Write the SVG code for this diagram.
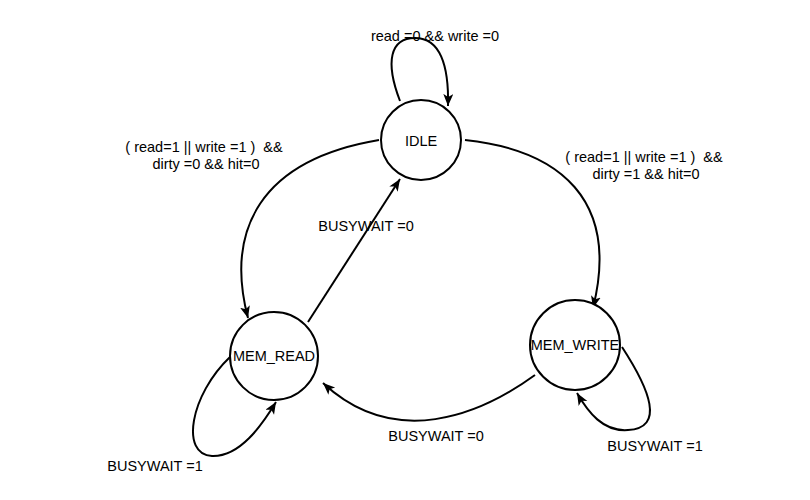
<svg xmlns="http://www.w3.org/2000/svg" width="810" height="500" viewBox="0 0 810 500">
<defs>
<style>
.node{fill:#ffffff;stroke:#000000;stroke-width:2}
.edge{fill:none;stroke:#000000;stroke-width:2;marker-end:url(#arr)}
text{font-family:"Liberation Sans",Arial,sans-serif;font-size:14.5px;fill:#000000;text-anchor:middle;white-space:pre}
</style>
<marker id="arr" markerUnits="userSpaceOnUse" markerWidth="14" markerHeight="12" refX="12" refY="5" orient="auto">
<path d="M0,0 L12,5 L0,10 L3,5 z" fill="#000000"/>
</marker>
</defs>
<rect width="810" height="500" fill="#ffffff"/>
<g id="connectors">
<path class="edge" d="M400,101 C385,62 390,38 415,38 C440,38 449,65 448,106"/>
<path class="edge" d="M379,140 C260,160 225,230 248,318"/>
<path class="edge" d="M465,140 C560,150 620,200 593,308"/>
<line class="edge" x1="308" y1="322" x2="400" y2="179"/>
<path class="edge" d="M535,375 C480,415 395,450 323,383"/>
<path class="edge" d="M230,357 C190,395 180,455 212,456 C240,457 262,425 276,402"/>
<path class="edge" d="M622,347 C650,390 665,428 628,430 C603,432 588,412 577,393"/>
</g>
<g id="edge-labels">
<text x="435" y="41">read =0 &amp;&amp; write =0</text>
<text x="204" y="152" xml:space="preserve">( read=1 || write =1 )  &amp;&amp;</text>
<text x="206" y="169">dirty =0 &amp;&amp; hit=0</text>
<text x="644" y="162" xml:space="preserve">( read=1 || write =1 )  &amp;&amp;</text>
<text x="646" y="179">dirty =1 &amp;&amp; hit=0</text>
<text x="366" y="231">BUSYWAIT =0</text>
<text x="436" y="441">BUSYWAIT =0</text>
<text x="155" y="471">BUSYWAIT =1</text>
<text x="655" y="451">BUSYWAIT =1</text>
</g>
<g id="IDLE">
<circle class="node" cx="421" cy="140" r="40"/>
<text x="421" y="146">IDLE</text>
</g>
<g id="MEM_READ">
<circle class="node" cx="274" cy="356" r="44"/>
<text x="274" y="361">MEM_READ</text>
</g>
<g id="MEM_WRITE">
<circle class="node" cx="575" cy="345" r="45"/>
<text x="575" y="350">MEM_WRITE</text>
</g>
</svg>
